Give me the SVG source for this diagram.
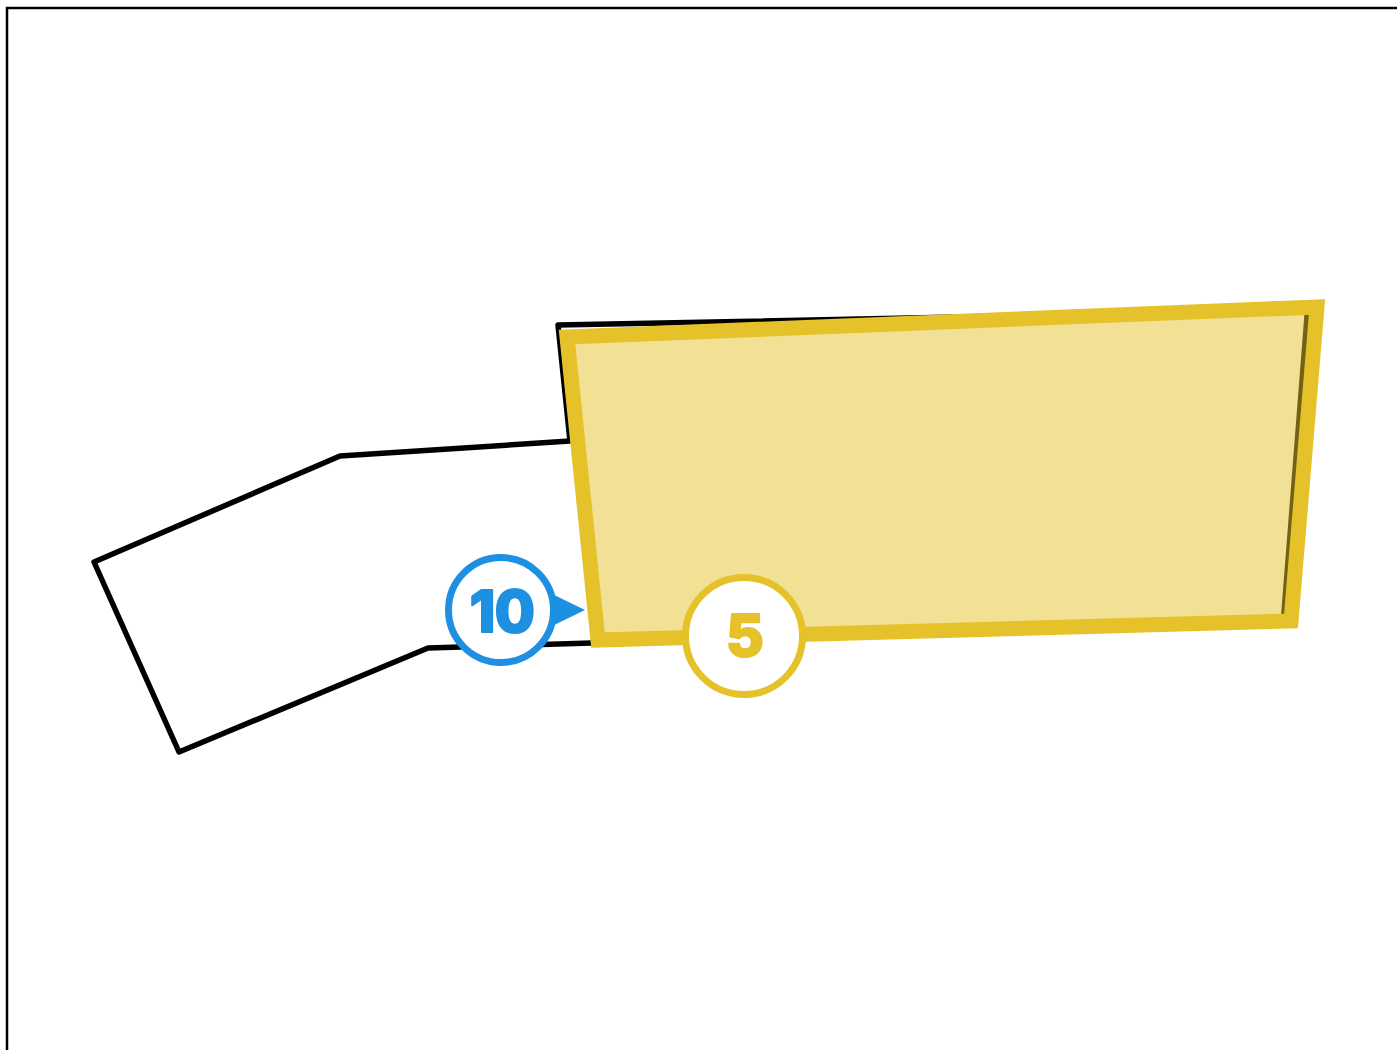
<svg xmlns="http://www.w3.org/2000/svg" width="1397" height="1050" viewBox="0 0 1397 1050">
<style>
.frame{fill:none;stroke:#000;stroke-width:2.5}
.room{fill:none;stroke:#000;stroke-width:5.5;stroke-linejoin:round}
.zone{fill:#e5c22a;fill-opacity:0.5;stroke:#e5c22a;stroke-width:15;stroke-linejoin:miter}
.badge{fill:#fff;stroke-width:7}
.blue{stroke:#1e90e2}
.yel{stroke:#e5c22a}
.lbl{font-family:Inter,"Open Sans","DejaVu Sans",sans-serif;font-weight:800;text-anchor:middle;stroke-width:2.2;stroke-linejoin:round}
</style>
<rect width="1397" height="1050" fill="#fff"/>
<path class="frame" d="M7,1050 V8 H1397"/>
<g id="room">
<path class="room" d="M558,325 L1307.5,310 L1283.5,619 L592,643 L428,648 L179,752 L94,562 L340,456 L570,441 Z"/>
</g>
<g id="zone5">
<path class="zone" d="M567,337 L1317,307 L1291,621 L598,640 Z"/>
</g>
<g id="marker10">
<path d="M548,592 L585,610 L548,628 Z" fill="#1e90e2"/>
<circle class="badge blue" cx="501" cy="610" r="52.5"/>
<text class="lbl" x="502" y="632" font-size="58" letter-spacing="-0.5" fill="#1e90e2" stroke="#1e90e2">10</text>
</g>
<g id="marker5">
<circle class="badge yel" cx="744" cy="636" r="58.5"/>
<text class="lbl" x="745" y="656" font-size="58" fill="#e5c22a" stroke="#e5c22a">5</text>
</g>
</svg>
